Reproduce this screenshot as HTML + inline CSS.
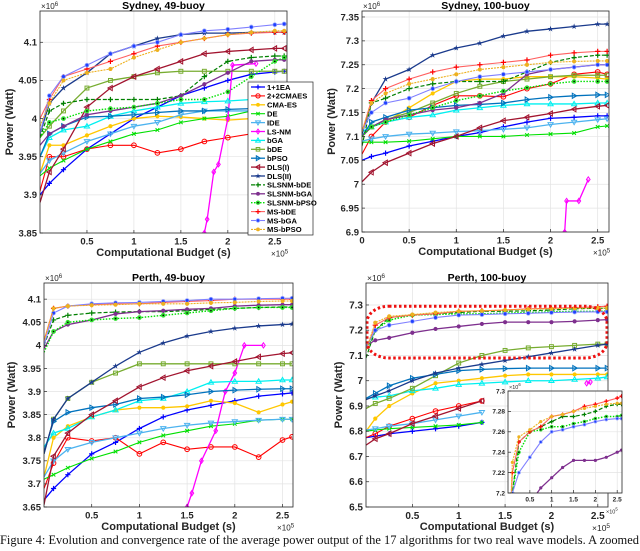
<!DOCTYPE html>
<html><head><meta charset="utf-8"><style>
html,body{margin:0;padding:0;background:#fff;width:640px;height:551px;overflow:hidden}
svg{display:block}
</style></head><body>
<svg id="fig" width="640" height="551" viewBox="0 0 640 551" xmlns="http://www.w3.org/2000/svg" style="font-family:'Liberation Sans',Arial,sans-serif"></svg>
<script>
// ---- data (x in 1e5 s, y in 1e6 W) ----
const seriesNames = ["1+1EA","2+2CMAES","CMA-ES","DE","IDE","LS-NM","bGA","bDE","bPSO","DLS(I)","DLS(II)","SLSNM-bDE","SLSNM-bGA","SLSNM-bPSO","MS-bDE","MS-bGA","MS-bPSO"];
const budgetGrid = [0,0.1,0.25,0.5,0.75,1,1.25,1.5,1.75,2,2.25,2.5,2.6];
const sydney49Values = [
 [3.90,3.915,3.933,3.96,3.98,4.0,4.015,4.03,4.04,4.05,4.058,4.061,4.062],
 [3.905,3.95,3.95,3.96,3.965,3.965,3.955,3.96,3.97,3.975,3.98,3.98,3.985],
 [3.928,3.965,3.965,3.978,3.99,4.0,4.003,4.002,4.0,3.998,4.0,4.0,4.0],
 [3.925,3.935,3.945,3.96,3.97,3.98,3.985,3.995,4.0,4.003,4.01,4.012,4.015],
 [3.928,3.945,3.955,3.97,3.98,3.99,3.995,4.005,4.01,4.01,4.01,4.01,4.01],
 null,
 [3.95,3.975,3.985,3.99,4.003,4.01,4.015,4.02,4.022,4.023,4.025,4.026,4.026],
 [3.975,3.99,4.01,4.04,4.05,4.055,4.06,4.062,4.062,4.062,4.062,4.062,4.062],
 [3.95,3.98,3.99,4.002,4.003,4.005,4.008,4.01,4.01,4.012,4.013,4.013,4.013],
 [3.89,3.93,3.96,4.015,4.04,4.055,4.065,4.075,4.085,4.088,4.09,4.092,4.092],
 [3.98,4.02,4.04,4.06,4.085,4.095,4.105,4.11,4.112,4.112,4.113,4.113,4.113],
 [3.975,4.01,4.02,4.025,4.025,4.025,4.025,4.03,4.055,4.075,4.08,4.082,4.082],
 [3.965,3.98,3.99,4.005,4.01,4.015,4.02,4.03,4.045,4.06,4.075,4.077,4.077],
 [3.975,3.995,4.0,4.01,4.013,4.015,4.02,4.025,4.025,4.035,4.055,4.075,4.08],
 [4.0,4.025,4.055,4.065,4.075,4.085,4.095,4.1,4.105,4.11,4.112,4.113,4.113],
 [3.98,4.03,4.055,4.07,4.085,4.095,4.1,4.11,4.115,4.117,4.12,4.123,4.124],
 [3.99,4.02,4.05,4.06,4.065,4.08,4.09,4.1,4.105,4.11,4.113,4.115,4.115]
];
const sydney49LsX = [1.75,1.78,1.85,1.9,2.0,2.05,2.3];
const sydney49LsY = [3.85,3.868,3.93,3.94,4.0,4.07,4.072];
const sydney100Values = [
 [7.05,7.058,7.065,7.08,7.09,7.1,7.108,7.12,7.13,7.138,7.14,7.143,7.143],
 [7.063,7.1,7.13,7.14,7.165,7.185,7.185,7.183,7.2,7.21,7.23,7.235,7.23],
 [7.1,7.12,7.13,7.16,7.19,7.215,7.22,7.22,7.225,7.225,7.225,7.222,7.22],
 [7.088,7.088,7.088,7.09,7.095,7.1,7.1,7.1,7.103,7.105,7.107,7.12,7.122],
 [7.09,7.095,7.1,7.105,7.107,7.11,7.112,7.115,7.118,7.125,7.13,7.135,7.137],
 null,
 [7.11,7.12,7.13,7.14,7.145,7.155,7.16,7.165,7.168,7.168,7.168,7.17,7.17],
 [7.1,7.12,7.135,7.15,7.17,7.19,7.205,7.215,7.22,7.225,7.228,7.228,7.228],
 [7.1,7.13,7.14,7.155,7.16,7.165,7.167,7.17,7.177,7.182,7.185,7.187,7.187],
 [7.005,7.025,7.045,7.065,7.085,7.1,7.118,7.133,7.14,7.148,7.157,7.163,7.165],
 [7.105,7.17,7.22,7.24,7.27,7.285,7.295,7.31,7.32,7.325,7.33,7.335,7.335],
 [7.08,7.17,7.18,7.2,7.21,7.215,7.215,7.215,7.235,7.255,7.265,7.27,7.27],
 [7.1,7.12,7.135,7.145,7.155,7.16,7.17,7.19,7.23,7.24,7.245,7.25,7.25],
 [7.1,7.12,7.13,7.145,7.16,7.175,7.185,7.195,7.202,7.21,7.215,7.215,7.215],
 [7.11,7.175,7.2,7.22,7.235,7.245,7.25,7.255,7.26,7.27,7.275,7.278,7.278],
 [7.11,7.15,7.17,7.18,7.2,7.215,7.225,7.23,7.235,7.24,7.245,7.25,7.25],
 [7.11,7.17,7.19,7.21,7.22,7.23,7.24,7.245,7.25,7.255,7.257,7.258,7.258]
];
const sydney100LsX = [2.15,2.17,2.3,2.4];
const sydney100LsY = [6.9,6.965,6.965,7.01];
const perth49Values = [
 [3.665,3.69,3.72,3.765,3.79,3.82,3.845,3.86,3.87,3.88,3.89,3.895,3.897],
 [3.69,3.745,3.8,3.793,3.8,3.765,3.79,3.775,3.78,3.78,3.758,3.795,3.802],
 [3.715,3.8,3.825,3.845,3.86,3.865,3.865,3.868,3.88,3.875,3.855,3.872,3.878],
 [3.71,3.72,3.735,3.755,3.77,3.79,3.805,3.815,3.825,3.83,3.838,3.84,3.84],
 [3.715,3.75,3.775,3.79,3.8,3.81,3.82,3.827,3.832,3.835,3.838,3.84,3.84],
 null,
 [3.78,3.81,3.82,3.845,3.86,3.88,3.885,3.9,3.92,3.922,3.922,3.925,3.925],
 [3.765,3.84,3.885,3.92,3.94,3.96,3.96,3.96,3.96,3.96,3.96,3.96,3.96],
 [3.77,3.835,3.855,3.865,3.872,3.885,3.888,3.893,3.9,3.903,3.905,3.906,3.906],
 [3.655,3.76,3.81,3.85,3.88,3.91,3.93,3.945,3.955,3.965,3.975,3.982,3.984],
 [3.765,3.84,3.885,3.92,3.955,3.985,4.005,4.02,4.03,4.037,4.042,4.045,4.046],
 [4.0,4.055,4.065,4.07,4.072,4.073,4.073,4.075,4.078,4.08,4.082,4.083,4.083],
 [3.993,4.03,4.045,4.055,4.068,4.073,4.075,4.078,4.08,4.085,4.087,4.088,4.088],
 [3.985,4.03,4.05,4.055,4.058,4.06,4.065,4.07,4.075,4.08,4.082,4.082,4.082],
 [4.01,4.08,4.085,4.088,4.09,4.09,4.093,4.095,4.097,4.1,4.1,4.1,4.1],
 [4.0,4.07,4.085,4.09,4.092,4.093,4.095,4.097,4.1,4.1,4.101,4.102,4.102],
 [4.01,4.08,4.085,4.087,4.088,4.09,4.09,4.09,4.092,4.093,4.095,4.096,4.096]
];
const perth49LsX = [1.5,1.55,1.65,1.8,1.9,2.0,2.1,2.3];
const perth49LsY = [3.65,3.68,3.75,3.815,3.9,3.94,4.0,4.0];
const perth100Values = [
 [6.775,6.78,6.79,6.8,6.81,6.82,6.835,null,null,null,null,null,null],
 [6.775,6.79,6.82,6.85,6.88,6.9,6.92,null,null,null,null,null,null],
 [6.8,6.85,6.9,6.95,6.99,7.0,7.01,7.02,7.025,7.025,7.025,7.025,7.025],
 [6.8,6.805,6.81,6.815,6.82,6.825,6.835,null,null,null,null,null,null],
 [6.805,6.81,6.82,6.83,6.845,6.86,6.875,null,null,null,null,null,null],
 null,
 [6.93,6.935,6.94,6.96,6.97,6.985,6.99,6.995,7.0,7.0,7.005,7.01,7.015],
 [6.89,6.91,6.93,6.97,7.02,7.07,7.1,7.12,7.13,7.135,7.14,7.145,7.145],
 [6.93,6.95,6.98,7.01,7.025,7.04,7.045,7.048,7.05,7.05,7.05,7.05,7.05],
 [6.745,6.77,6.79,6.83,6.86,6.89,6.92,null,null,null,null,null,null],
 [6.925,6.94,6.96,7.0,7.03,7.05,7.065,7.08,7.095,7.11,7.125,7.14,7.145],
 [7.09,7.2,7.25,7.26,7.265,7.27,7.275,7.275,7.277,7.28,7.285,7.287,7.287],
 [7.14,7.16,7.17,7.19,7.205,7.215,7.225,7.232,7.232,7.232,7.235,7.24,7.242],
 [7.12,7.2,7.24,7.26,7.262,7.265,7.265,7.268,7.27,7.273,7.275,7.275,7.276],
 [7.12,7.22,7.25,7.26,7.265,7.275,7.277,7.28,7.285,7.287,7.29,7.293,7.295],
 [7.13,7.2,7.22,7.235,7.25,7.26,7.262,7.265,7.267,7.27,7.272,7.273,7.273],
 [7.12,7.23,7.255,7.262,7.27,7.275,7.277,7.28,7.283,7.285,7.287,7.288,7.288]
];
const perth100LsX = [2.38,2.42];
const perth100LsY = [6.99,6.995];
const xTickLabels = ["0.5","1","1.5","2","2.5"];
const xTickValues = [0.5,1,1.5,2,2.5];

// ---- styles ----
const styles = [
 {c:"#0000ff",m:"+",w:1.3},{c:"#ff0000",m:"o",w:1.1},{c:"#ffc700",m:"h",w:1.3},{c:"#00e000",m:"x",w:1.1},
 {c:"#4db3ef",m:"v",w:1.3},{c:"#ff00ff",m:"d",w:1.3},{c:"#00f0f0",m:"^",w:1.3},{c:"#77ac30",m:"s",w:1.3},
 {c:"#0072bd",m:">",w:1.3},{c:"#a2142f",m:"<",w:1.3},{c:"#1a3a8c",m:"*",w:1.3},{c:"#008000",m:"+",w:1.2,dash:"4,2"},
 {c:"#7e2f8e",m:"h",w:1.3},{c:"#00e000",m:"g",w:1.4,dash:"1.5,1.5"},{c:"#ff6060",m:"+r",w:1.1},
 {c:"#8080ff",m:"b",w:1.1},{c:"#edb120",m:"h",w:1.1,dash:"2,1"}
];
const NS="http://www.w3.org/2000/svg";
const svg=document.getElementById('fig');
function el(tag,attrs,parent){const e=document.createElementNS(NS,tag);for(const k in attrs)e.setAttribute(k,attrs[k]);(parent||svg).appendChild(e);return e;}
function txt(s,attrs,parent){const t=el('text',attrs,parent);t.textContent=s;return t;}

function marker(g,m,x,y,c,r){
 r=r||2.6;
 let e;
 if(m==="+"||m==="+r"){e=el('path',{d:`M${x-r} ${y}H${x+r}M${x} ${y-r}V${y+r}`,stroke:m==="+r"?"#ff0000":c,'stroke-width':1.2,fill:'none'},g);}
 else if(m==="x"){e=el('path',{d:`M${x-r*.7} ${y-r*.7}L${x+r*.7} ${y+r*.7}M${x-r*.7} ${y+r*.7}L${x+r*.7} ${y-r*.7}`,stroke:c,'stroke-width':1,fill:'none'},g);}
 else if(m==="o"){e=el('circle',{cx:x,cy:y,r:r*0.9,stroke:c,'stroke-width':1,fill:'none'},g);}
 else if(m==="h"){e=el('circle',{cx:x,cy:y,r:r*0.8,fill:c},g);}
 else if(m==="b"){e=el('circle',{cx:x,cy:y,r:r*0.75,fill:"#2040ff",stroke:"#9aa8ff",'stroke-width':0.8},g);}
 else if(m==="g"){e=el('circle',{cx:x,cy:y,r:r*0.9,fill:"#30e030"},g);el('circle',{cx:x,cy:y,r:0.8,fill:"#000"},g);}
 else if(m==="s"){e=el('rect',{x:x-r*.75,y:y-r*.75,width:r*1.5,height:r*1.5,stroke:c,fill:'none','stroke-width':1},g);}
 else if(m==="d"){e=el('path',{d:`M${x} ${y-r}L${x+r*.7} ${y}L${x} ${y+r}L${x-r*.7} ${y}Z`,stroke:c,fill:'none','stroke-width':1},g);}
 else if(m==="^"){e=el('path',{d:`M${x} ${y-r}L${x+r} ${y+r*.7}L${x-r} ${y+r*.7}Z`,stroke:c,fill:'none','stroke-width':1},g);}
 else if(m==="v"){e=el('path',{d:`M${x} ${y+r}L${x+r} ${y-r*.7}L${x-r} ${y-r*.7}Z`,stroke:c,fill:'none','stroke-width':1},g);}
 else if(m===">"){e=el('path',{d:`M${x+r} ${y}L${x-r*.7} ${y-r}L${x-r*.7} ${y+r}Z`,stroke:c,fill:'none','stroke-width':1},g);}
 else if(m==="<"){e=el('path',{d:`M${x-r} ${y}L${x+r*.7} ${y-r}L${x+r*.7} ${y+r}Z`,stroke:c,fill:'none','stroke-width':1},g);}
 else if(m==="*"){let p="";for(let i=0;i<10;i++){const a=-Math.PI/2+i*Math.PI/5;const rr=i%2?r*0.45:r*1.2;p+=(i?"L":"M")+(x+rr*Math.cos(a)).toFixed(2)+" "+(y+rr*Math.sin(a)).toFixed(2);}e=el('path',{d:p+"Z",fill:c},g);}
 if(e){}
}

let clipId=0;
function panel(cfg){
 const {L,R,T,B,xmin,xmax,ymin,ymax,yticks,ylabels,title,values,lsX,lsY,name}=cfg;
 const sx=v=>L+(v-xmin)/(xmax-xmin)*(R-L);
 const sy=v=>B-(v-ymin)/(ymax-ymin)*(B-T);
 const g=el('g',{});
 
 
 el('rect',{x:L,y:T,width:R-L,height:B-T,fill:'#fff'},g);
 xTickValues.forEach(v=>{if(v>=xmin&&v<=xmax)el('line',{x1:sx(v),x2:sx(v),y1:T,y2:B,stroke:'#e3e3e3','stroke-width':0.7},g);});
 yticks.forEach(v=>el('line',{x1:L,x2:R,y1:sy(v),y2:sy(v),stroke:'#e3e3e3','stroke-width':0.7},g));
 const id='c'+(clipId++);
 const cp=el('clipPath',{id},g);el('rect',{x:L,y:T,width:R-L,height:B-T},cp);
 const sg=el('g',{'clip-path':`url(#${id})`},g);
 const fs=cfg.fs||9.5;
 values.forEach((vals,i)=>{
  if(cfg.only&&!cfg.only.includes(i))return;
  const st=styles[i];
  let xs=budgetGrid, ys=vals;
  if(vals===null){xs=lsX;ys=lsY;}
  const pts=[];
  xs.forEach((x,k)=>{if(ys[k]!==null&&ys[k]!==undefined)pts.push([sx(x),sy(ys[k])]);});
  const pl=el('polyline',{points:pts.map(p=>p.join(',')).join(' '),fill:'none',stroke:st.c,'stroke-width':st.w,'stroke-dasharray':st.dash||'none'},sg);
  
  
  pts.forEach((p,k)=>{if(k===0&&vals!==null&&!cfg.inset)return; marker(sg,st.m,p[0],p[1],st.c,cfg.inset?2:2.6);});
 });
 if(cfg.ellipse){const e=el('rect',{x:L+1,y:sy(7.295),width:R-L-2,height:sy(7.09)-sy(7.295),rx:22,ry:16,fill:'none',stroke:'#ee1111','stroke-width':3,'stroke-dasharray':'2.5,2.5'},g);}
 el('rect',{x:L,y:T,width:R-L,height:B-T,fill:'none',stroke:'#262626','stroke-width':0.8},g);
 xTickValues.forEach((v,i)=>{if(v<xmin||v>xmax)return;
  el('line',{x1:sx(v),x2:sx(v),y1:B,y2:B-3,stroke:'#262626','stroke-width':0.7},g);
  const t=txt(xTickLabels[i],{x:sx(v),y:B+fs+2,'font-size':fs,'font-weight':'bold','text-anchor':'middle',fill:'#262626'},g);
  });
 if(cfg.showZero){const t=txt("0",{x:sx(0),y:B+fs+2,'font-size':fs,'font-weight':'bold','text-anchor':'middle',fill:'#262626'},g);}
 yticks.forEach((v,i)=>{
  el('line',{x1:L,x2:L+3,y1:sy(v),y2:sy(v),stroke:'#262626','stroke-width':0.7},g);
  const t=txt(ylabels[i],{x:L-3,y:sy(v)+fs*0.35,'font-size':fs,'font-weight':'bold','text-anchor':'end',fill:'#262626'},g);
  });
 const e6=txt("×10",{x:L+1,y:T-2,'font-size':fs*0.85,fill:'#262626'},g);const s6=el('tspan',{dy:-3,'font-size':fs*0.65},e6);s6.textContent="6";
 
 const e5=txt("×10",{x:R-16,y:B+fs+14,'font-size':fs*0.85,fill:'#262626'},g);const s5=el('tspan',{dy:-3,'font-size':fs*0.65},e5);s5.textContent="5";
 
 if(title){const t=txt(title,{x:(L+R)/2,y:T-2,'font-size':10.5,'font-weight':'bold','text-anchor':'middle',fill:'#000'},g);
  const xl=txt("Computational Budget (s)",{x:(L+R)/2,y:B+23,'font-size':11,'font-weight':'bold','text-anchor':'middle',fill:'#262626'},g);
  const yl=txt("Power (Watt)",{x:0,y:0,'font-size':11,'font-weight':'bold','text-anchor':'middle',fill:'#262626',transform:`translate(${cfg.ylx},${(T+B)/2}) rotate(-90)`},g);}
 return g;
}

panel({name:'sydney-49-buoy-chart',L:40,R:287,T:11,B:233,xmin:0,xmax:2.63,ymin:3.85,ymax:4.141,yticks:[3.85,3.9,3.95,4,4.05,4.1],ylabels:["3.85","3.9","3.95","4","4.05","4.1"],title:"Sydney, 49-buoy",values:sydney49Values,lsX:sydney49LsX,lsY:sydney49LsY,ylx:13});
panel({name:'sydney-100-buoy-chart',L:362,R:609,T:11,B:232,xmin:0,xmax:2.62,ymin:6.9,ymax:7.3625,yticks:[6.9,6.95,7,7.05,7.1,7.15,7.2,7.25,7.3,7.35],ylabels:["6.9","6.95","7","7.05","7.1","7.15","7.2","7.25","7.3","7.35"],title:"Sydney, 100-buoy",values:sydney100Values,lsX:sydney100LsX,lsY:sydney100LsY,ylx:335,showZero:true});
panel({name:'perth-49-buoy-chart',L:44,R:293,T:283,B:507,xmin:0,xmax:2.61,ymin:3.65,ymax:4.135,yticks:[3.65,3.7,3.75,3.8,3.85,3.9,3.95,4,4.05,4.1],ylabels:["3.65","3.7","3.75","3.8","3.85","3.9","3.95","4","4.05","4.1"],title:"Perth, 49-buoy",values:perth49Values,lsX:perth49LsX,lsY:perth49LsY,ylx:15});
panel({name:'perth-100-buoy-chart',L:366,R:608,T:283,B:507,xmin:0,xmax:2.61,ymin:6.5,ymax:7.387,yticks:[6.5,6.6,6.7,6.8,6.9,7,7.1,7.2,7.3],ylabels:["6.5","6.6","6.7","6.8","6.9","7","7.1","7.2","7.3"],title:"Perth, 100-buoy",values:perth100Values,lsX:perth100LsX,lsY:perth100LsY,ylx:342,ellipse:true,fs:10});
panel({name:'perth-100-zoom-inset',L:508,R:622,T:391,B:493,xmin:0,xmax:2.61,ymin:7.2,ymax:7.3,yticks:[7.2,7.22,7.24,7.26,7.28,7.3],ylabels:["7.2","7.22","7.24","7.26","7.28","7.3"],values:perth100Values,lsX:perth100LsX,lsY:perth100LsY,only:[11,12,13,14,15,16],inset:true,fs:6.5});

// legend
const lg=el('g',{});


el('rect',{x:248,y:82,width:65,height:153,fill:'#fff',stroke:'#262626','stroke-width':0.7},lg);
seriesNames.forEach((n,i)=>{
 const y=87+i*8.9, st=styles[i];
 const e=el('g',{},lg);
 
 
 el('line',{x1:251,x2:265,y1:y,y2:y,stroke:st.c,'stroke-width':st.w,'stroke-dasharray':st.dash||'none'},e);
 marker(e,st.m,258,y,st.c,2.4);
 txt(n,{x:267,y:y+2.8,'font-size':7.6,'font-weight':'bold',fill:'#000'},e);
});

const cap=txt("Figure 4: Evolution and convergence rate of the average power output of the 17 algorithms for two real wave models. A zoomed",{x:0,y:544,'font-size':12.3,fill:'#111',style:"font-family:'Liberation Serif',serif",textLength:639,lengthAdjust:'spacingAndGlyphs'});


</script>
</body></html>
